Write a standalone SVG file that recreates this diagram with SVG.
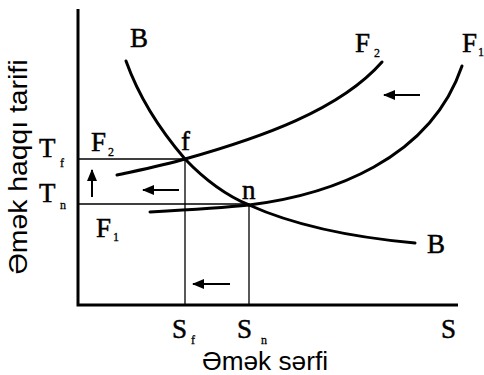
<svg xmlns="http://www.w3.org/2000/svg" width="484" height="375" viewBox="0 0 484 375">
<style>
.curve{fill:none;stroke:#000;stroke-width:3;stroke-linecap:round}
.axis{fill:none;stroke:#000;stroke-width:3}
.guide{fill:none;stroke:#000;stroke-width:1.3}
.shaft{fill:none;stroke:#000;stroke-width:2}
.lbl{font-family:"Liberation Serif","Times New Roman",serif;font-size:27px;fill:#000;stroke:#000;stroke-width:0.5}
.sub{font-family:"Liberation Serif","Times New Roman",serif;font-size:12px;fill:#000;stroke:#000;stroke-width:0.3}
.ax{font-family:"Liberation Sans",Arial,sans-serif;font-size:25px;fill:#000}
</style>
<defs>
<marker id="ah" viewBox="0 0 12 10" refX="11" refY="5" markerWidth="12" markerHeight="10" markerUnits="userSpaceOnUse" orient="auto">
<path d="M0,0 L12,5 L0,10 Z" fill="#000"/>
</marker>
</defs>
<rect width="484" height="375" fill="#fff"/>
<g id="axes">
<path class="axis" d="M78,9 L78,305 L458,305"/>
</g>
<g id="connectors">
<path class="guide" d="M78,159 L185,159 L185,305"/>
<path class="guide" d="M78,204 L249,204 L249,305"/>
<path class="shaft" d="M420,95 L384,95" marker-end="url(#ah)"/>
<path class="shaft" d="M179,190 L143,190" marker-end="url(#ah)"/>
<path class="shaft" d="M92,197 L92,170" marker-end="url(#ah)"/>
<path class="shaft" d="M230,284 L193,284" marker-end="url(#ah)"/>
</g>
<g id="curveB">
<path class="curve" d="M126,61 C140,100 160,130 185,159 C205,180 225,195 249,205 C300,228 360,238 415,243"/>
<text class="lbl" x="130" y="47">B</text>
<text class="lbl" x="427" y="253">B</text>
</g>
<g id="curveF2">
<path class="curve" d="M117,175 C140,170 165,165 185,159 C260,138 340,110 382,62"/>
<text class="lbl" x="355" y="52">F</text><text class="sub" x="374" y="57">2</text>
<text class="lbl" x="91" y="151">F</text><text class="sub" x="108" y="156">2</text>
</g>
<g id="curveF1">
<path class="curve" d="M150,212 C185,210 220,208 249,205 C330,195 430,160 462,66"/>
<text class="lbl" x="462" y="52">F</text><text class="sub" x="478" y="56">1</text>
<text class="lbl" x="96" y="237">F</text><text class="sub" x="113" y="241">1</text>
</g>
<g id="pointF">
<text class="lbl" x="181" y="150">f</text>
</g>
<g id="pointN">
<text class="lbl" x="242" y="199">n</text>
</g>
<g id="labels">
<text class="lbl" x="39" y="157">T</text><text class="sub" x="60" y="167">f</text>
<text class="lbl" x="39" y="202">T</text><text class="sub" x="60" y="209">n</text>
<text class="lbl" x="172" y="338">S</text><text class="sub" x="191" y="344">f</text>
<text class="lbl" x="237" y="338">S</text><text class="sub" x="261" y="344">n</text>
<text class="lbl" x="441" y="338">S</text>
<text class="ax" x="202" y="370" textLength="126" lengthAdjust="spacingAndGlyphs">Əmək sərfi</text>
<text class="ax" transform="translate(27,167) rotate(-90)" text-anchor="middle" textLength="215" lengthAdjust="spacingAndGlyphs">Əmək haqqı tarifi</text>
</g>
</svg>
